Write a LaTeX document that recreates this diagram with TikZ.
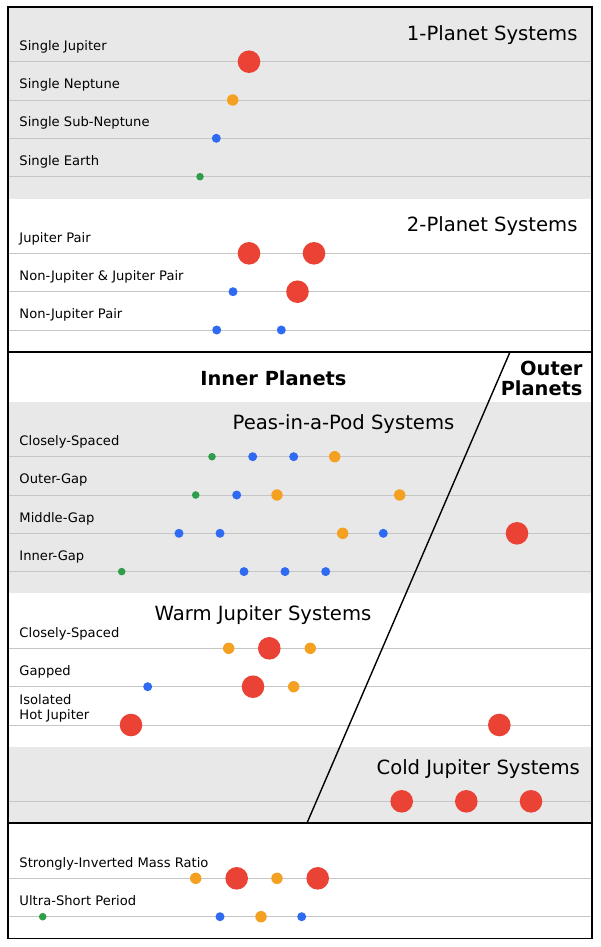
\documentclass[tikz,border=0pt]{standalone}
\usepackage{fontspec}
\setmainfont{DejaVu Sans}
\definecolor{pred}{HTML}{EA4335}
\definecolor{porange}{HTML}{F4A020}
\definecolor{pblue}{HTML}{2F6BF2}
\definecolor{pgreen}{HTML}{2E9E4A}
\definecolor{bggray}{HTML}{E8E8E8}
\definecolor{linegray}{HTML}{C6C6C6}
\tikzset{
  planet/.style={circle, inner sep=0pt, draw=none},
  jup/.style={planet, fill=pred, minimum size=22.6pt},
  nep/.style={planet, fill=porange, minimum size=11.4pt},
  sub/.style={planet, fill=pblue, minimum size=9pt},
  ear/.style={planet, fill=pgreen, minimum size=7.6pt},
  lbl/.style={anchor=base west, inner sep=0pt, font=\fontsize{13.1}{15.3}\selectfont},
  ttl/.style={inner sep=0pt, font=\fontsize{19.6}{22}\selectfont},
  hdr/.style={inner sep=0pt, font=\fontsize{19.4}{20}\selectfont\bfseries},
  rowline/.style={draw=linegray, line width=0.9pt},
  frame/.style={draw=black, line width=1.5pt},
  divider/.style={draw=black, line width=1.3pt}
}
\begin{document}
\begin{tikzpicture}[x=1pt,y=-1pt]
\useasboundingbox (0,0) rectangle (600,947);
\fill[white] (0,0) rectangle (600,947);
% backgrounds
\fill[bggray] (8,7) rectangle (592,199);
\fill[bggray] (8,402) rectangle (592,593);
\fill[bggray] (8,746.7) rectangle (592,823);
% row lines
\foreach \y in {61.7,100,138.3,176.7,253.3,291.7,330,456.7,495,533.3,571.6,648.3,686.7,725,801.3,878.3,916.7}
  \draw[rowline] (8,\y) -- (592,\y);
% titles
\node[ttl, anchor=base east] (t1) at (577.7,40.7) {1-Planet Systems};
\node[ttl, anchor=base east] (t2) at (577.7,231.7) {2-Planet Systems};
\node[hdr, anchor=base] (inner) at (273.5,385.7) {Inner Planets};
\node[hdr, anchor=base east, align=right] (outer) at (582.7,395) {Outer\\Planets};
\node[ttl, anchor=base] (t3) at (343.5,429.3) {Peas-in-a-Pod Systems};
\node[ttl, anchor=base] (t4) at (263,620.7) {Warm Jupiter Systems};
\node[ttl, anchor=base east] (t5) at (580,774) {Cold Jupiter Systems};
% labels
\node[lbl] (l1) at (19.3,50.4) {Single Jupiter};
\node[lbl] (l2) at (19.3,88.7) {Single Neptune};
\node[lbl] (l3) at (19.3,127) {Single Sub-Neptune};
\node[lbl] (l4) at (19.3,165.4) {Single Earth};
\node[lbl] (l5) at (19.3,242) {Jupiter Pair};
\node[lbl] (l6) at (19.3,280.4) {Non-Jupiter \& Jupiter Pair};
\node[lbl] (l7) at (19.3,318.7) {Non-Jupiter Pair};
\node[lbl] (l8) at (19.3,445.4) {Closely-Spaced};
\node[lbl] (l9) at (19.3,483.7) {Outer-Gap};
\node[lbl] (l10) at (19.3,522) {Middle-Gap};
\node[lbl] (l11) at (19.3,560.3) {Inner-Gap};
\node[lbl] (l12) at (19.3,637) {Closely-Spaced};
\node[lbl] (l13) at (19.3,675.4) {Gapped};
\node[lbl, align=left] (l14) at (19.3,719.3) {Isolated\\Hot Jupiter};
\node[lbl] (l15) at (19.3,867) {Strongly-Inverted Mass Ratio};
\node[lbl] (l16) at (19.3,905.4) {Ultra-Short Period};
% 1-planet
\node[jup] (a1) at (249,61.7) {};
\node[nep] (a2) at (232.7,100) {};
\node[sub] (a3) at (216.3,138.3) {};
\node[ear] (a4) at (200,176.7) {};
% 2-planet
\node[jup] (b1) at (249,253.3) {};
\node[jup] (b2) at (314,253.3) {};
\node[sub] (b3) at (233,291.7) {};
\node[jup] (b4) at (297.5,291.7) {};
\node[sub] (b5) at (216.7,330) {};
\node[sub] (b6) at (281.3,330) {};
% peas
\node[ear] (c1) at (212,456.7) {};
\node[sub] (c2) at (252.7,456.7) {};
\node[sub] (c3) at (293.7,456.7) {};
\node[nep] (c4) at (334.7,456.7) {};
\node[ear] (c5) at (195.7,495) {};
\node[sub] (c6) at (236.7,495) {};
\node[nep] (c7) at (277,495) {};
\node[nep] (c8) at (399.7,495) {};
\node[sub] (c9) at (179,533.3) {};
\node[sub] (c10) at (220,533.3) {};
\node[nep] (c11) at (342.7,533.3) {};
\node[sub] (c12) at (383.3,533.3) {};
\node[jup] (c13) at (517,533.3) {};
\node[ear] (c14) at (121.7,571.6) {};
\node[sub] (c15) at (244,571.6) {};
\node[sub] (c16) at (285,571.6) {};
\node[sub] (c17) at (325.7,571.6) {};
% warm
\node[nep] (d1) at (228.7,648.3) {};
\node[jup] (d2) at (269.3,648.3) {};
\node[nep] (d3) at (310.3,648.3) {};
\node[sub] (d4) at (147.7,686.7) {};
\node[jup] (d5) at (253,686.7) {};
\node[nep] (d6) at (293.7,686.7) {};
\node[jup] (d7) at (131,725) {};
\node[jup] (d8) at (499.3,725) {};
% cold
\node[jup] (e1) at (401.7,801.3) {};
\node[jup] (e2) at (466.3,801.3) {};
\node[jup] (e3) at (531,801.3) {};
% bottom
\node[nep] (f1) at (195.7,878.3) {};
\node[jup] (f2) at (236.7,878.3) {};
\node[nep] (f3) at (277,878.3) {};
\node[jup] (f4) at (317.7,878.3) {};
\node[ear] (f5) at (42.7,916.7) {};
\node[sub] (f6) at (220,916.7) {};
\node[nep] (f7) at (261,916.7) {};
\node[sub] (f8) at (301.7,916.7) {};
% diagonal and frame
\coordinate (dtop) at (510,352);
\coordinate (dbot) at (307,823);
\draw[black, line width=1.4pt] (dtop) -- (dbot);
\draw[divider] (8,352) -- (592,352);
\draw[divider] (8,823) -- (592,823);
\draw[frame] (8,7) rectangle (592,938.3);
\end{tikzpicture}
\end{document}
